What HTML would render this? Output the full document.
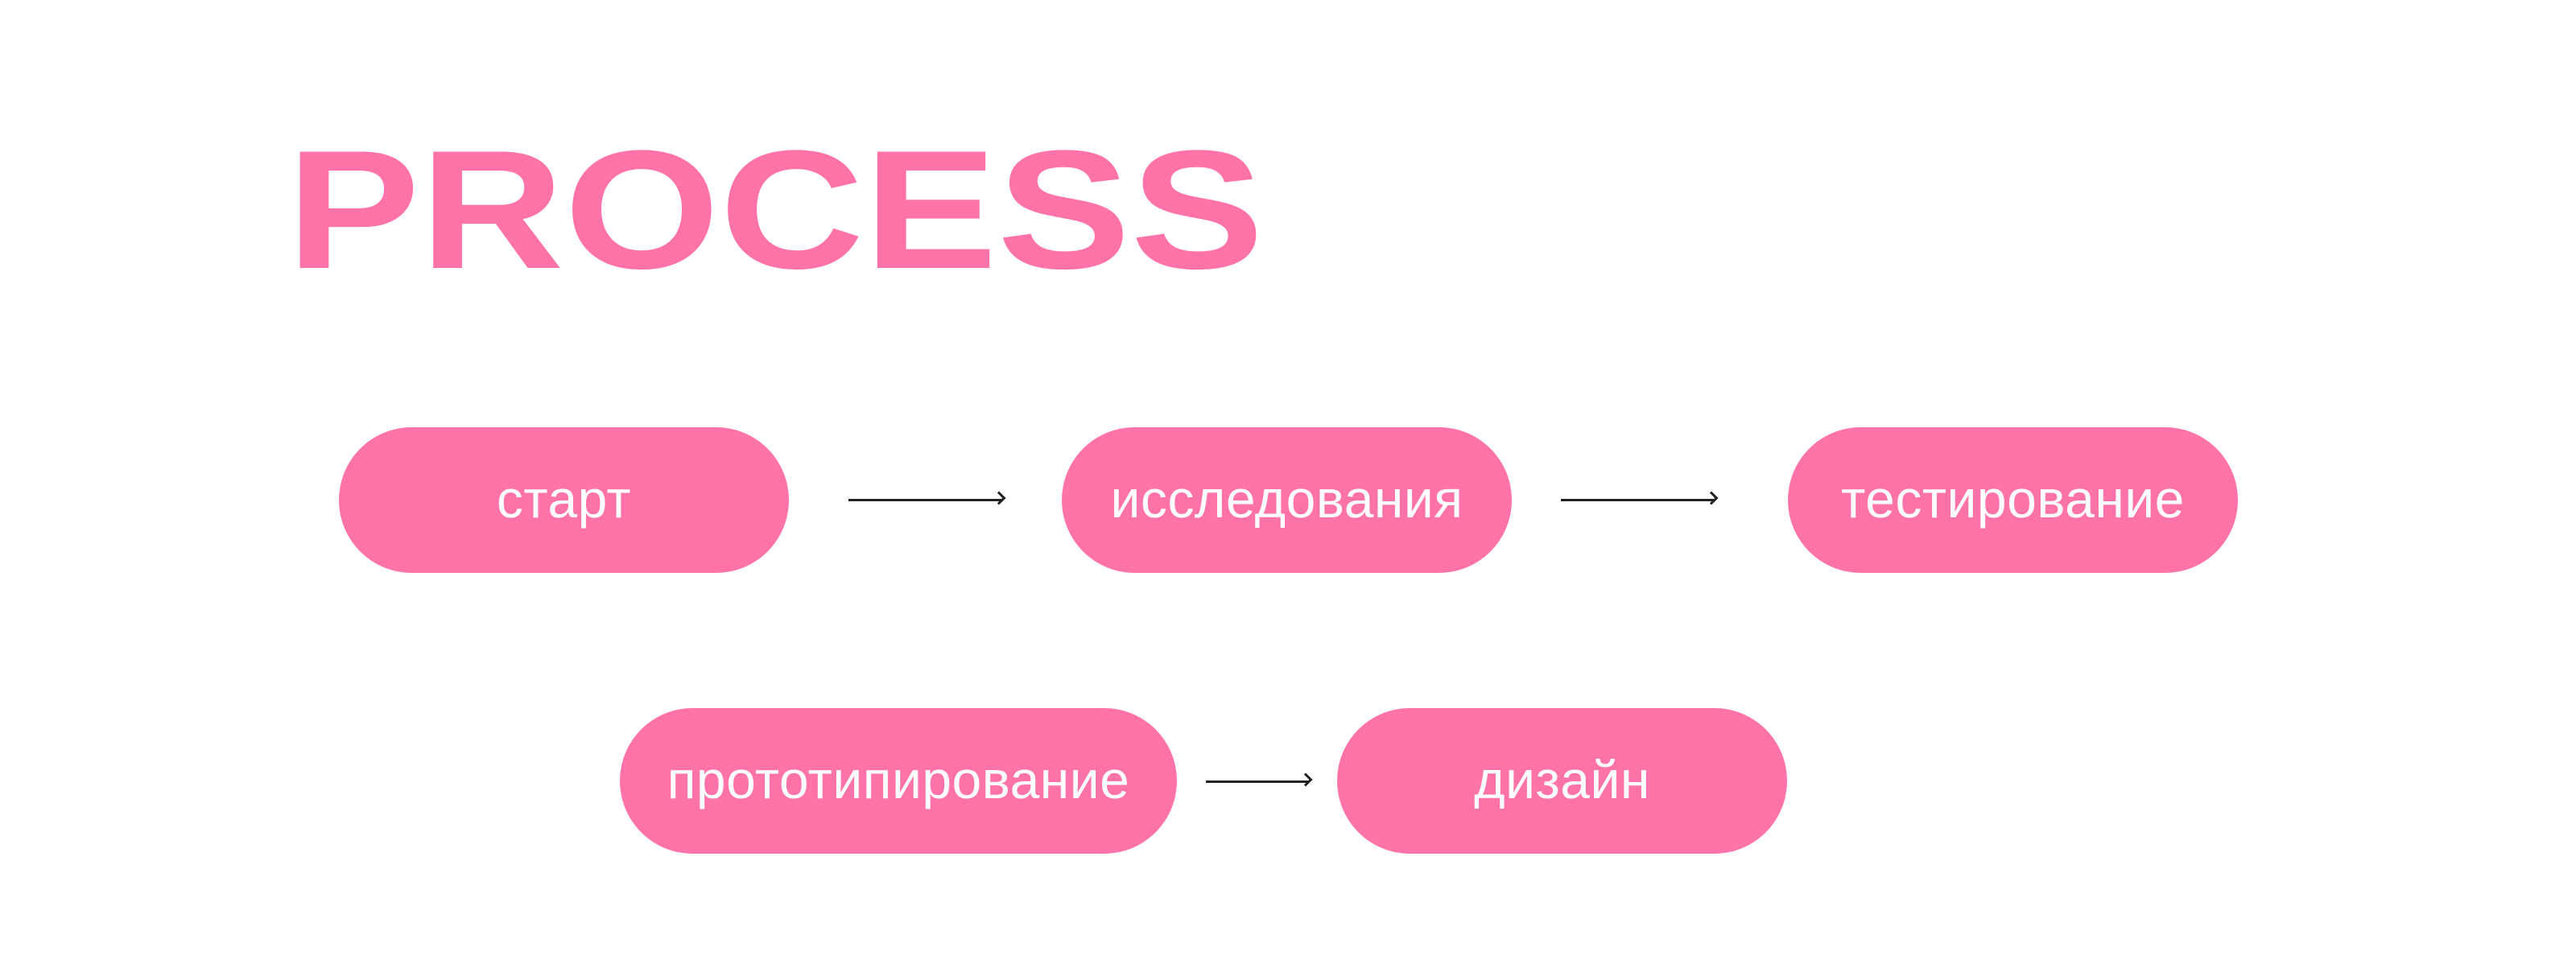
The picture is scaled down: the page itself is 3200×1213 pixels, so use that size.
<!DOCTYPE html>
<html><head><meta charset="utf-8"><style>
html,body{margin:0;padding:0;background:#fff;}
body{width:3200px;height:1213px;position:relative;overflow:hidden;font-family:"Liberation Sans","DejaVu Sans",sans-serif;}
.pill{position:absolute;background:#ff73a8;border-radius:91px;color:#fdfdfd;display:flex;align-items:center;justify-content:center;font-size:66px;line-height:1;letter-spacing:0.5px;}
.pill span{position:relative;top:-2px;}
.arr{position:absolute;height:3px;background:#222;}
.arr:after{content:"";position:absolute;right:0;top:-7px;width:12px;height:12px;border-right:3px solid #222;border-top:3px solid #222;transform:translateX(1px) rotate(45deg);box-sizing:border-box;}
</style></head><body>
<svg style="position:absolute;left:0;top:0" width="3200" height="400">
<text x="356" y="333" font-family="Liberation Sans" font-weight="bold" font-size="210" fill="#ff73a8" textLength="1214" lengthAdjust="spacingAndGlyphs">PROCESS</text>
</svg>
<div class="pill" style="left:421px;top:531px;width:559px;height:181px"><span>старт</span></div>
<div class="arr" style="left:1054px;top:620px;width:192px"></div>
<div class="pill" style="left:1319px;top:531px;width:559px;height:181px"><span>исследования</span></div>
<div class="arr" style="left:1939px;top:620px;width:192px"></div>
<div class="pill" style="left:2221px;top:531px;width:559px;height:181px"><span>тестирование</span></div>
<div class="pill" style="left:770px;top:880px;width:692px;height:181px"><span>прототипирование</span></div>
<div class="arr" style="left:1498px;top:970px;width:129px"></div>
<div class="pill" style="left:1661px;top:880px;width:559px;height:181px"><span>дизайн</span></div>
</body></html>
